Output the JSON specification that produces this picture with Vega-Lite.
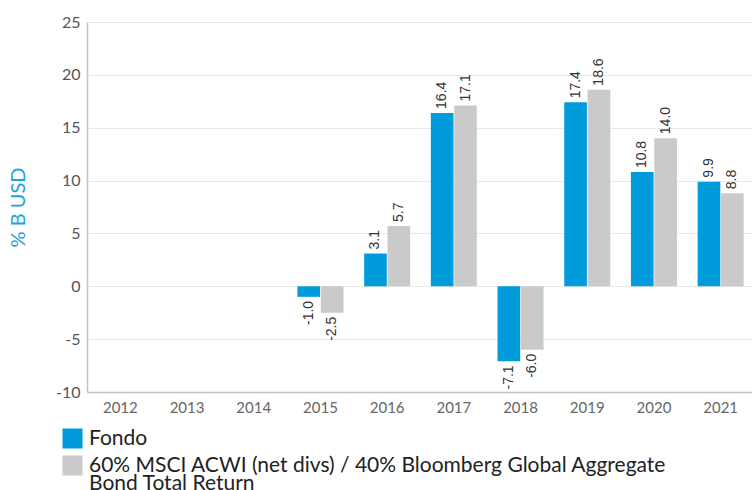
{
  "$schema": "https://vega.github.io/schema/vega-lite/v6.json",
  "autosize": "none",
  "width": 667,
  "height": 370,
  "padding": {"left": 87, "top": 22, "right": 0, "bottom": 98},
  "background": "white",
  "config": {
    "font": "Lato",
    "view": {"stroke": null},
    "locale": {"number": {"decimal": ".", "thousands": ",", "grouping": [3], "currency": ["$", ""], "minus": "-"}},
    "style": {"guide-label": {"lineHeight": 18}}
  },
  "data": {
    "values": [
      {"year": "2015", "series": "Fondo", "value": -1.0},
      {"year": "2015", "series": "Benchmark", "value": -2.5},
      {"year": "2016", "series": "Fondo", "value": 3.1},
      {"year": "2016", "series": "Benchmark", "value": 5.7},
      {"year": "2017", "series": "Fondo", "value": 16.4},
      {"year": "2017", "series": "Benchmark", "value": 17.1},
      {"year": "2018", "series": "Fondo", "value": -7.1},
      {"year": "2018", "series": "Benchmark", "value": -6.0},
      {"year": "2019", "series": "Fondo", "value": 17.4},
      {"year": "2019", "series": "Benchmark", "value": 18.6},
      {"year": "2020", "series": "Fondo", "value": 10.8},
      {"year": "2020", "series": "Benchmark", "value": 14.0},
      {"year": "2021", "series": "Fondo", "value": 9.9},
      {"year": "2021", "series": "Benchmark", "value": 8.8}
    ]
  },
  "encoding": {
    "x": {
      "field": "year", "type": "nominal",
      "scale": {"domain": ["2012","2013","2014","2015","2016","2017","2018","2019","2020","2021"], "paddingInner": 0.31, "paddingOuter": 0.155},
      "axis": {"title": null, "labelAngle": 0, "labelFont": "Lato", "labelFontSize": 15, "labelColor": "#666666", "ticks": false, "domainColor": "#c4c4c4", "domainWidth": 1.5, "labelPadding": 8}
    },
    "xOffset": {"field": "series", "type": "nominal", "scale": {"domain": ["Fondo", "Benchmark"], "paddingInner": 0.03}},
    "y": {
      "field": "value", "type": "quantitative",
      "scale": {"domain": [-10, 25], "nice": false, "zero": false},
      "axis": {"title": "% B USD", "titleColor": "#1fa3df", "titleFont": "Lato", "titleFontSize": 20, "titleFontWeight": "normal", "titlePadding": 27, "values": [-10,-5,0,5,10,15,20,25], "format": "d", "labelFont": "Lato", "labelFontSize": 16, "labelColor": "#555555", "ticks": false, "labelPadding": 7, "gridColor": "#e8e8e8", "domainColor": "#c4c4c4", "domainWidth": 1.5}
    }
  },
  "layer": [
    {
      "mark": {"type": "bar"},
      "encoding": {
        "color": {
          "field": "series", "type": "nominal",
          "scale": {"domain": ["Fondo", "Benchmark"], "range": ["#009bdb", "#cacaca"]},
          "legend": {
            "title": null,
            "orient": "none",
            "legendX": -25,
            "legendY": 406,
            "direction": "vertical",
            "symbolType": "square",
            "symbolSize": 400,
            "symbolStrokeWidth": 0,
            "labelFont": "Lato",
            "labelFontSize": 21,
            "labelColor": "#222222",
            "labelLimit": 800,
            "labelOffset": 6,
            "rowPadding": 5,
            "labelExpr": "datum.label == 'Fondo' ? 'Fondo' : ['60% MSCI ACWI (net divs) / 40% Bloomberg Global Aggregate', 'Bond Total Return']"
          }
        }
      }
    },
    {
      "transform": [{"filter": "datum.value >= 0"}],
      "mark": {"type": "text", "angle": 270, "align": "left", "baseline": "middle", "dx": 4, "font": "Liberation Sans", "fontSize": 14, "color": "#333333"},
      "encoding": {"text": {"field": "value", "type": "quantitative", "format": ".1f"}}
    },
    {
      "transform": [{"filter": "datum.value < 0"}],
      "mark": {"type": "text", "angle": 270, "align": "right", "baseline": "middle", "dx": -4, "font": "Liberation Sans", "fontSize": 14, "color": "#333333"},
      "encoding": {"text": {"field": "value", "type": "quantitative", "format": ".1f"}}
    }
  ]
}
